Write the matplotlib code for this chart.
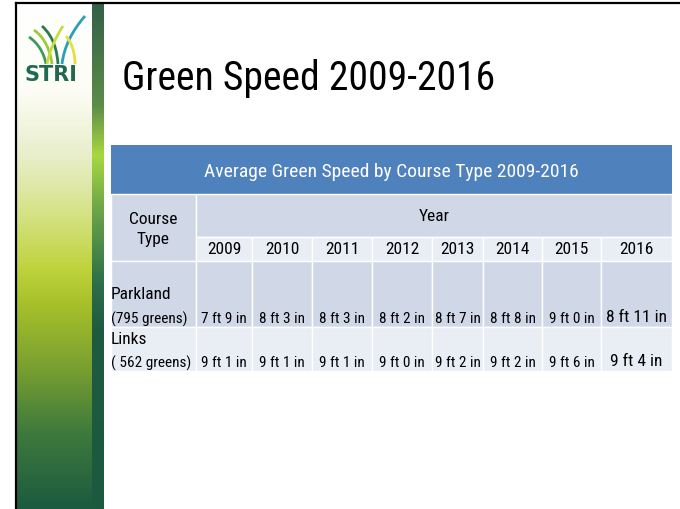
# Green speed slide: title, STRI side panel and a table
import numpy as np
import matplotlib.pyplot as plt
from matplotlib.colors import LinearSegmentedColormap
from matplotlib.patches import Rectangle, PathPatch
from matplotlib.path import Path

title = "Green Speed 2009-2016"
table_title = "Average Green Speed by Course Type 2009-2016"
years = ["2009", "2010", "2011", "2012", "2013", "2014", "2015", "2016"]
course_types = ["Parkland", "Links"]
green_counts = ["(795 greens)", "( 562 greens)"]
parkland = ["7 ft 9 in", "8 ft 3 in", "8 ft 3 in", "8 ft 2 in", "8 ft 7 in", "8 ft 8 in", "9 ft 0 in", "8 ft 11 in"]
links = ["9 ft 1 in", "9 ft 1 in", "9 ft 1 in", "9 ft 0 in", "9 ft 2 in", "9 ft 2 in", "9 ft 6 in", "9 ft 4 in"]

plt.rcParams['font.family'] = ['Roboto Condensed', 'Archivo Narrow', 'Lato', 'DejaVu Sans']

fig = plt.figure(figsize=(6.8, 5.1), dpi=100)
ax = fig.add_axes([0, 0, 1, 1])
ax.set_xlim(0, 680)
ax.set_ylim(510, 0)
ax.axis("off")

# left panel gradient
panel = LinearSegmentedColormap.from_list("panel", [
    (0.0, "#ffffff"), (0.17, "#fdfdf6"), (0.3, "#e9eecb"), (0.4, "#d8e490"),
    (0.52, "#c0d440"), (0.59, "#a9c22a"), (0.72, "#7aa030"), (0.85, "#3e7a3c"),
    (1.0, "#1c5a40")])
stripe = LinearSegmentedColormap.from_list("stripe", [
    (0.0, "#33604a"), (0.2, "#5c8c48"), (0.3, "#a8d840"), (0.4, "#70a848"),
    (0.55, "#2e7048"), (0.65, "#1e5a40"), (1.0, "#1c5a40")])
grad = np.linspace(0, 1, 256).reshape(-1, 1)
ax.imshow(grad, cmap=panel, extent=(17, 92, 510, 4), aspect="auto", zorder=0)
ax.imshow(grad, cmap=stripe, extent=(92, 104, 510, 4), aspect="auto", zorder=0)

# frame lines
ax.plot([16, 680], [4, 4], color="black", lw=1.6, zorder=3)
ax.plot([16, 16], [4, 510], color="black", lw=1.6, zorder=3)

# logo: grass blades + STRI
blades = [
    ([(29, 38), (38, 44), (44, 54), (46, 65)], "#3f9a5a"),
    ([(34, 31), (44, 38), (50, 50), (52, 65)], "#9ccc3a"),
    ([(42, 27), (54, 38), (57, 52), (58, 65)], "#2a7a50"),
    ([(47, 65), (50, 50), (56, 38), (63, 27)], "#c8dc40"),
    ([(62, 65), (64, 48), (72, 32), (85, 17)], "#2aa0b8"),
    ([(66, 37), (72, 44), (75, 54), (75, 65)], "#e0e040"),
]
codes = [Path.MOVETO, Path.CURVE4, Path.CURVE4, Path.CURVE4]
for pts, col in blades:
    ax.add_patch(PathPatch(Path(pts, codes), fill=False, edgecolor=col, lw=2.0, zorder=2))
ax.text(51, 75, "STRI", ha="center", va="center", fontsize=15, fontweight="bold",
        color="#1f6a50", family=["DejaVu Sans"], zorder=2)

# slide title
ax.text(122, 78, title, ha="left", va="center", fontsize=28.5, color="black")

# table geometry
col_edges = [111, 196, 252, 312, 372, 432, 483, 542, 601, 672]
blue = "#4f81bd"
dark = "#d0d8e8"
light = "#e9edf4"
grid = dict(edgecolor="white", lw=1.0)

ax.add_patch(Rectangle((111, 146), 672 - 111, 49, facecolor=blue, edgecolor="none"))
ax.text((111 + 672) / 2, 172, table_title, ha="center", va="center", fontsize=14, color="white")

# header rows
ax.add_patch(Rectangle((111, 195), 196 - 111, 262 - 195, facecolor=dark, **grid))
ax.add_patch(Rectangle((196, 195), 672 - 196, 238 - 195, facecolor=dark, **grid))
ax.text(153, 220, "Course", ha="center", va="center", fontsize=12.5)
ax.text(153, 240, "Type", ha="center", va="center", fontsize=12.5)
ax.text((196 + 672) / 2, 217, "Year", ha="center", va="center", fontsize=12.5)
for i, y in enumerate(years):
    x0, x1 = col_edges[i + 1], col_edges[i + 2]
    ax.add_patch(Rectangle((x0, 238), x1 - x0, 24, facecolor=light, **grid))
    ax.text((x0 + x1) / 2, 250, y, ha="center", va="center", fontsize=12.5)

# body rows
rows = [(parkland, 262, 328, dark, 295, 319), (links, 328, 372, light, 340, 363)]
for r, (vals, top, bot, fc, name_y, val_y) in enumerate(rows):
    for i in range(len(col_edges) - 1):
        x0, x1 = col_edges[i], col_edges[i + 1]
        ax.add_patch(Rectangle((x0, top), x1 - x0, bot - top, facecolor=fc, **grid))
    ax.text(111, name_y, course_types[r], ha="left", va="center", fontsize=12.5)
    ax.text(111, val_y, green_counts[r], ha="left", va="center", fontsize=11)
    for i, v in enumerate(vals):
        x0, x1 = col_edges[i + 1], col_edges[i + 2]
        last = i == len(vals) - 1
        ax.text((x0 + x1) / 2, val_y - (1.5 if last else 0), v,
                ha="center", va="center", fontsize=12.5 if last else 11)

fig.savefig("out.png", dpi=100)
